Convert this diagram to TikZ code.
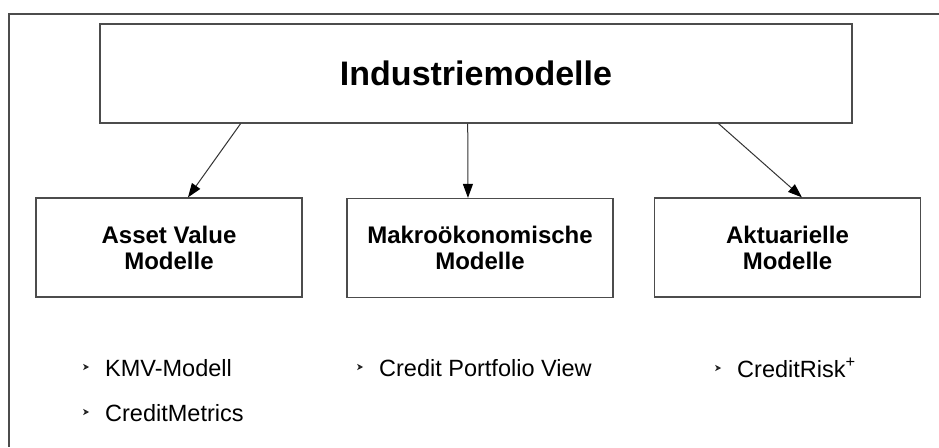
\documentclass[tikz,border=0pt]{standalone}
\usepackage{fontspec}
\setmainfont{Liberation Sans}
\usetikzlibrary{arrows.meta,calc}
\begin{document}
\begin{tikzpicture}[x=1pt,y=-1pt,
  box/.style={draw=black!70,line width=1.3pt,fill=white,inner sep=0pt,align=center,
    minimum width=266pt,minimum height=99pt,font=\bfseries\fontsize{24}{26}\selectfont},
  link/.style={draw=black!80,line width=1pt,-{Triangle[length=14pt,width=10pt,fill=black,color=black]}},
  itm/.style={anchor=base west,inner sep=0pt,font=\fontsize{23.5}{26}\selectfont},
  tipmark/.pic={\fill[black!85] (-3,-3.2) -- (3.2,0) -- (-3,3.2) -- (-1.2,0) -- cycle;}]
\useasboundingbox (0,0) rectangle (939,447);
\draw[black!70,line width=1.2pt] (939,14) -- (9,14) -- (9,447);
% top
\node[box,minimum width=752pt,font=\bfseries\fontsize{34}{38}\selectfont] (ind) at (476,73.5) {Industriemodelle};
% model groups
\node[box] (asset) at (169,247.5) {Asset Value\\Modelle};
\node[box] (makro) at (480,248) {Makroökonomische\\Modelle};
\node[box] (aktu) at (787.5,247.5) {Aktuarielle\\Modelle};
\draw[link] ($(ind.south west)!0.1875!(ind.south east)$) -- ($(asset.north west)!0.571!(asset.north east)$);
\draw[link] ($(ind.south west)!0.489!(ind.south east)$) -- ($(makro.north west)!0.455!(makro.north east)$);
\draw[link] ($(ind.south west)!0.822!(ind.south east)$) -- ($(aktu.north west)!0.554!(aktu.north east)$);
% examples
\node[itm] (kmv) at (105,376) {KMV-Modell};
\node[itm] (cm) at (105,421) {CreditMetrics};
\node[itm] (cpv) at (379,376) {Credit Portfolio View};
\node[itm] (cr) at (737,377) {CreditRisk\textsuperscript{+}};
\pic at ([xshift=-19pt,yshift=9pt]kmv.base west) {tipmark};
\pic at ([xshift=-19pt,yshift=9pt]cm.base west) {tipmark};
\pic at ([xshift=-19pt,yshift=9pt]cpv.base west) {tipmark};
\pic at ([xshift=-19pt,yshift=9pt]cr.base west) {tipmark};
\end{tikzpicture}
\end{document}
